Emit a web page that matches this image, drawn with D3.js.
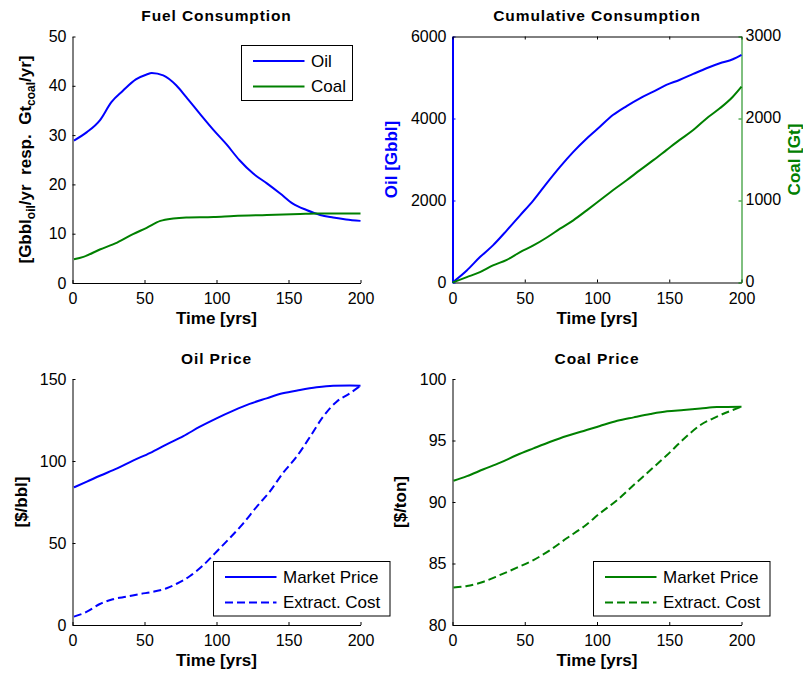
<!DOCTYPE html>
<html>
<head>
<meta charset="utf-8">
<script src="https://cdn.jsdelivr.net/npm/d3@7"></script>
<style>
  body { margin: 0; background: #fff; }
  svg { display: block; }
  text { font-family: Arial, "Liberation Sans", sans-serif; fill: #000; }
</style>
</head>
<body>
<svg id="fig" width="803" height="673"></svg>
<script>
const BLUE = "#0000ff";
const GREEN = "#008000";

const timeTicks = [0, 50, 100, 150, 200];

// Fuel consumption [Gbbl/yr for oil, Gt/yr for coal]
const oilUseYears = [1, 10, 19, 27, 35, 44, 51.5, 55, 63, 72, 79, 88.5, 98, 107, 116, 125.5, 135, 144, 153, 162.5, 172, 181, 190, 200];
const oilUse      = [28.9, 30.6, 33, 36.7, 39, 41.3, 42.3, 42.6, 42.1, 40.1, 37.7, 34.3, 31, 28.1, 24.9, 22.2, 20.2, 18.2, 16.1, 14.8, 13.8, 13.3, 12.9, 12.6];
const coalUseYears = [1, 7.6, 19, 31, 42, 51.5, 61, 70, 79, 98, 112, 135, 158, 169.5, 200];
const coalUse      = [4.8, 5.3, 6.8, 8.2, 9.9, 11.2, 12.6, 13.1, 13.3, 13.4, 13.6, 13.8, 14.0, 14.1, 14.1];
const useTicks = [0, 10, 20, 30, 40, 50];

// Cumulative consumption [Gbbl oil, Gt coal]
const cumYears   = [0, 9.9, 19, 28, 37.6, 46.8, 56, 65, 74.4, 83.6, 92.9, 102, 111, 120.5, 129.7, 139, 148, 157, 166.6, 175.8, 185, 194, 200];
const oilCum     = [0, 293, 620, 905, 1272, 1639, 2005, 2413, 2821, 3187, 3514, 3799, 4084, 4304, 4492, 4655, 4818, 4940, 5087, 5226, 5348, 5446, 5552];
const coalCum    = [0, 65, 126, 208, 277, 371, 452, 546, 656, 758, 880, 1003, 1125, 1247, 1370, 1492, 1614, 1736, 1859, 2001, 2124, 2266, 2389];
const oilCumTicks  = [0, 2000, 4000, 6000];
const coalCumTicks = [0, 1000, 2000, 3000];

// Oil price [$/bbl]
const oilMarketYears = [1, 10, 19, 31, 42, 54, 65.4, 77, 88.5, 100, 111.7, 123, 134.8, 146, 158, 169.5, 181, 192.6, 200];
const oilMarket      = [83.9, 87.4, 91, 95.5, 100.2, 105, 110.2, 115.2, 120.9, 126, 130.7, 134.8, 138.2, 141.3, 143.3, 144.9, 145.9, 146.1, 145.9];
const oilCostYears = [1, 10, 19, 28, 37.7, 47, 56, 65.4, 72, 81.6, 91, 100, 109, 118.6, 128, 137, 146, 155.6, 165, 174, 183.4, 192.6, 200];
const oilCost      = [5.1, 8.1, 12.8, 15.7, 17.3, 18.9, 20.3, 22.4, 25, 29.9, 36.6, 44.7, 52.8, 62, 72.2, 81.3, 92.5, 102.6, 114.8, 127, 136.2, 141.3, 145.9];
const oilPriceTicks = [0, 50, 100, 150];

// Coal price [$/ton]
const coalPriceYears = [0.7, 10, 21.5, 33, 44.6, 56, 67.7, 79, 90.8, 102, 114, 125.4, 137, 148.5, 160, 171.6, 183, 200];
const coalMarket     = [91.73, 92.1, 92.66, 93.2, 93.82, 94.36, 94.9, 95.37, 95.77, 96.18, 96.6, 96.88, 97.15, 97.37, 97.48, 97.6, 97.72, 97.75];
const coalCost       = [83.04, 83.17, 83.52, 84.07, 84.66, 85.28, 86.1, 87.05, 87.99, 89.08, 90.16, 91.38, 92.6, 93.82, 95.12, 96.26, 96.94, 97.75];
const coalPriceTicks = [80, 85, 90, 95, 100];

const svg = d3.select("#fig");

const TICK_FONT = "16px";
const LABEL_FONT = "17px";
const TITLE_FONT = "15.5px";
const TICK_LEN = 3;
const plain = d3.format("d");

function styleAxis(sel, color, width) {
  sel.select(".domain").attr("stroke", color).attr("stroke-width", width || 1);
  sel.selectAll(".tick line").attr("stroke", color).attr("stroke-width", 1);
  sel.selectAll(".tick text").style("font-size", TICK_FONT).attr("fill", color);
  sel.attr("font-family", null);
}

function makePanel(o) {
  const x = d3.scaleLinear().domain([0, 200]).range([o.left, o.right]);
  const y = d3.scaleLinear().domain(o.yDomain).range([o.bottom, o.top]);
  const g = svg.append("g");

  // bottom axis with tick labels
  const xa = g.append("g")
    .attr("transform", `translate(0,${o.bottom})`)
    .call(d3.axisBottom(x).tickValues(timeTicks).tickFormat(plain)
      .tickSizeInner(-TICK_LEN).tickSizeOuter(0).tickPadding(10.1));
  styleAxis(xa, "#000");

  // left axis
  const ya = g.append("g")
    .attr("transform", `translate(${o.left},0)`)
    .call(d3.axisLeft(y).tickValues(o.yTicks).tickFormat(plain)
      .tickSizeInner(-TICK_LEN).tickSizeOuter(0).tickPadding(6));
  styleAxis(ya, o.leftColor || "#000", o.leftWidth);

  // x label
  g.append("text")
    .attr("x", (o.left + o.right) / 2)
    .attr("y", o.bottom + 41)
    .attr("text-anchor", "middle")
    .style("font-size", LABEL_FONT)
    .style("font-weight", "bold")
    .text("Time [yrs]");

  // title
  g.append("text")
    .attr("x", (o.left + o.right) / 2)
    .attr("y", o.top - 15.5)
    .attr("text-anchor", "middle")
    .style("font-size", TITLE_FONT)
    .style("font-weight", "bold")
    .style("letter-spacing", "0.9px")
    .text(o.title);

  return { g, x, y };
}

function addYLabel(g, xPos, yMid, parts, color) {
  const t = g.append("text")
    .attr("transform", `translate(${xPos},${yMid}) rotate(-90)`)
    .attr("text-anchor", "middle")
    .style("font-size", LABEL_FONT)
    .style("font-weight", "bold")
    .style("white-space", "pre")
    .attr("fill", color || "#000");
  parts.forEach(p => {
    const s = t.append("tspan").text(p.text).attr("fill", color || "#000");
    if (p.sub) {
      s.style("font-size", "12px").attr("dy", 4);
    } else if (p.afterSub) {
      s.attr("dy", -4);
    }
  });
}

function drawLine(g, x, y, xs, ys, color, dashed) {
  const data = xs.map((t, i) => [t, ys[i]]);
  g.append("path")
    .datum(data)
    .attr("fill", "none")
    .attr("stroke", color)
    .attr("stroke-width", 2)
    .attr("stroke-dasharray", dashed ? "8,4" : null)
    .attr("d", d3.line().x(d => x(d[0])).y(d => y(d[1])).curve(d3.curveMonotoneX));
}

function drawLegend(g, bx, by, bw, bh, items) {
  g.append("rect")
    .attr("x", bx).attr("y", by).attr("width", bw).attr("height", bh)
    .attr("fill", "#fff").attr("stroke", "#000").attr("stroke-width", 1);
  items.forEach((it, i) => {
    const ry = by + 15.5 + i * 25.5;
    g.append("line")
      .attr("x1", bx + 11.5).attr("x2", bx + 63)
      .attr("y1", ry).attr("y2", ry)
      .attr("stroke", it.color).attr("stroke-width", 2)
      .attr("stroke-dasharray", it.dashed ? "8,4" : null);
    g.append("text")
      .attr("x", bx + 69.5).attr("y", ry)
      .attr("dy", "0.35em")
      .style("font-size", "17px")
      .text(it.label);
  });
}

// ---- Fuel Consumption ----
{
  const p = makePanel({ left: 72.5, right: 360.5, top: 36.5, bottom: 283, yDomain: [0, 50], yTicks: useTicks, title: "Fuel Consumption" });
  drawLine(p.g, p.x, p.y, oilUseYears, oilUse, BLUE, false);
  drawLine(p.g, p.x, p.y, coalUseYears, coalUse, GREEN, false);
  addYLabel(p.g, 31, 159.5, [
    { text: "[Gbbl" }, { text: "oil", sub: true }, { text: "/yr  resp.  Gt", afterSub: true },
    { text: "coal", sub: true }, { text: "/yr]", afterSub: true }
  ]);
  drawLegend(p.g, 241.5, 45.5, 111, 55, [
    { label: "Oil", color: BLUE },
    { label: "Coal", color: GREEN }
  ]);
}

// ---- Cumulative Consumption ----
{
  const p = makePanel({ left: 452.5, right: 741.5, top: 36.5, bottom: 282.5, yDomain: [0, 6000], yTicks: oilCumTicks, leftColor: BLUE, leftWidth: 2, title: "Cumulative Consumption" });
  const yR = d3.scaleLinear().domain([0, 3000]).range([282.5, 36.5]);

  // top frame edge
  const ta = p.g.append("g")
    .attr("transform", "translate(0,36.5)")
    .call(d3.axisTop(p.x).tickValues(timeTicks).tickSizeInner(-TICK_LEN).tickSizeOuter(0).tickFormat(""));
  styleAxis(ta, "#000");

  // right axis for coal
  const ra = p.g.append("g")
    .attr("transform", "translate(741.5,0)")
    .call(d3.axisRight(yR).tickValues(coalCumTicks).tickFormat(plain)
      .tickSizeInner(-TICK_LEN).tickSizeOuter(0).tickPadding(4));
  styleAxis(ra, GREEN);
  ra.selectAll(".tick text").attr("dy", "0.22em");

  drawLine(p.g, p.x, p.y, cumYears, oilCum, BLUE, false);
  drawLine(p.g, p.x, yR, cumYears, coalCum, GREEN, false);

  addYLabel(p.g, 397, 159.5, [{ text: "Oil [Gbbl]" }], BLUE);
  addYLabel(p.g, 800, 159.5, [{ text: "Coal [Gt]" }], GREEN);
}

// ---- Oil Price ----
{
  const p = makePanel({ left: 72.5, right: 360.5, top: 379, bottom: 625, yDomain: [0, 150], yTicks: oilPriceTicks, title: "Oil Price" });
  drawLine(p.g, p.x, p.y, oilMarketYears, oilMarket, BLUE, false);
  drawLine(p.g, p.x, p.y, oilCostYears, oilCost, BLUE, true);
  addYLabel(p.g, 27, 502, [{ text: "[$/bbl]" }]);
  drawLegend(p.g, 213.5, 561.5, 176.5, 54.5, [
    { label: "Market Price", color: BLUE },
    { label: "Extract. Cost", color: BLUE, dashed: true }
  ]);
}

// ---- Coal Price ----
{
  const p = makePanel({ left: 452.5, right: 741.5, top: 379, bottom: 625, yDomain: [80, 100], yTicks: coalPriceTicks, title: "Coal Price" });
  drawLine(p.g, p.x, p.y, coalPriceYears, coalMarket, GREEN, false);
  drawLine(p.g, p.x, p.y, coalPriceYears, coalCost, GREEN, true);
  addYLabel(p.g, 406, 502, [{ text: "[$/ton]" }]);
  drawLegend(p.g, 593.5, 561.5, 176.5, 54.5, [
    { label: "Market Price", color: GREEN },
    { label: "Extract. Cost", color: GREEN, dashed: true }
  ]);
}
</script>
</body>
</html>
